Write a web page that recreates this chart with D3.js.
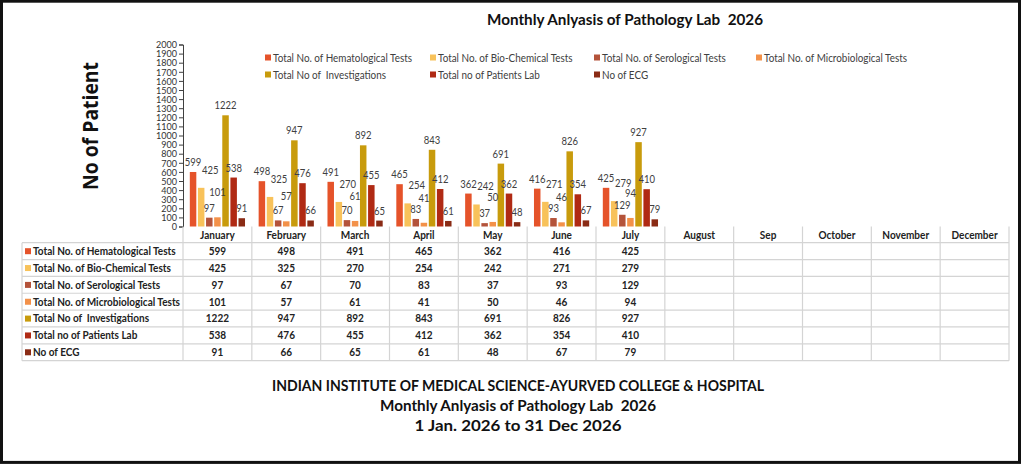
<!DOCTYPE html>
<html><head><meta charset="utf-8">
<script src="https://cdn.jsdelivr.net/npm/d3@7"></script>
<style>
html,body{margin:0;padding:0;background:#fff;}
svg{display:block;font-family:Lato,"Liberation Sans",sans-serif;}
text{white-space:pre;}
</style></head>
<body>
<script>
const months = ["January","February","March","April","May","June","July","August","Sep","October","November","December"];
const seriesNames = ["Total No. of Hematological Tests","Total No. of Bio-Chemical Tests","Total No. of Serological Tests","Total No. of Microbiological Tests","Total No of  Investigations","Total no of Patients Lab","No of ECG"];
const hematological = [599,498,491,465,362,416,425];
const bioChemical   = [425,325,270,254,242,271,279];
const serological   = [97,67,70,83,37,93,129];
const microbiological = [101,57,61,41,50,46,94];
const investigations = [1222,947,892,843,691,826,927];
const patientsLab   = [538,476,455,412,362,354,410];
const ecg           = [91,66,65,61,48,67,79];
const yTicks = d3.range(0,2001,100);
const colors = ["#E5532A","#F8C25A","#B4533A","#F39149","#C89B0C","#B02A14","#8A2B15"];
// label placement style per series (offsets in px)
const labelDx = [0,9,0,0,0,0,0];
const labelDy = [6,14,6,21,6,6,6];

const seriesValues = [hematological,bioChemical,serological,microbiological,investigations,patientsLab,ecg];

const W=1024,H=466;
const svg = d3.select("body").append("svg").attr("width",W).attr("height",H);
svg.append("rect").attr("x",0).attr("y",0).attr("width",W).attr("height",H).attr("fill","#fff");
svg.append("rect").attr("x",1.5).attr("y",1.2).attr("width",1018).attr("height",461.2).attr("fill","none").attr("stroke","#111").attr("stroke-width",3);

function fitText(sel,len){ sel.attr("textLength",len).attr("lengthAdjust","spacingAndGlyphs"); return sel; }
function scaleTexts(sel,factor){ sel.each(function(){ const w=this.getComputedTextLength(); d3.select(this).attr("textLength",w*factor).attr("lengthAdjust","spacingAndGlyphs"); }); }
function measure(str,size,weight){ const t=svg.append("text").attr("font-size",size).attr("font-weight",weight).text(str); const w=t.node().getComputedTextLength(); t.remove(); return w; }

// Title
fitText(svg.append("text").attr("x",625).attr("y",25).attr("text-anchor","middle")
  .attr("font-size",15).attr("font-weight","bold").attr("fill","#111")
  .text("Monthly Anlyasis of Pathology Lab  2026"),276);

// Scales
const x0 = d3.scaleBand().domain(months).range([183,1009]).padding(0);
const x1 = d3.scaleBand().domain(seriesNames).range([6,x0.bandwidth()-6]).paddingInner(0.2).paddingOuter(0.1);
const y = d3.scaleLinear().domain([0,2000]).range([226.5,44.5]);

// Y axis
const yAxis = svg.append("g").attr("transform","translate(183,0)")
  .call(d3.axisLeft(y).tickValues(yTicks).tickSize(4).tickPadding(2).tickFormat(d3.format("d")));
yAxis.select(".domain").attr("stroke","#404040");
yAxis.selectAll(".tick line").attr("stroke","#404040");
yAxis.selectAll(".tick text").attr("font-size",10).attr("fill","#333").attr("font-family","Lato,sans-serif");
scaleTexts(yAxis.selectAll(".tick text"), 21/measure("2000",10,"normal"));

// Y title
svg.append("text").attr("transform","translate(98,126) rotate(-90)").attr("text-anchor","middle")
  .attr("font-size",21).attr("font-weight","bold").attr("fill","#111")
  .attr("font-family","\"Open Sans\",\"Noto Sans\",sans-serif")
  .text("No of Patient").call(s=>fitText(s,128));

// Bars
const data = [];
seriesNames.forEach((s,i)=>{ seriesValues[i].forEach((v,j)=>data.push({s,i,m:months[j],v})); });
svg.append("g").selectAll("rect").data(data).join("rect")
  .attr("x",d=>x0(d.m)+x1(d.s)).attr("width",x1.bandwidth())
  .attr("y",d=>y(d.v)).attr("height",d=>y(0)-y(d.v)).attr("fill",d=>colors[d.i]);
const labels = svg.append("g").selectAll("text").data(data).join("text")
  .attr("x",d=>x0(d.m)+x1(d.s)+x1.bandwidth()/2+labelDx[d.i]).attr("y",d=>y(d.v)-labelDy[d.i])
  .attr("text-anchor","middle").attr("font-size",11.5).attr("fill","#404040")
  .text(d=>d.v);
scaleTexts(labels, 22/measure("1222",11.5,"normal"));

// Legend
const legX=[265,430,594,756], legY=[58,75];
const leg = svg.append("g").selectAll("g").data(seriesNames).join("g")
  .attr("transform",(d,i)=>`translate(${legX[i%4]},${legY[Math.floor(i/4)]})`);
leg.append("rect").attr("x",0).attr("y",-3.5).attr("width",6).attr("height",6).attr("fill",(d,i)=>colors[i]);
const legText = leg.append("text").attr("x",8).attr("y",4).attr("font-size",11).attr("fill","#404040").text(d=>d);
scaleTexts(legText, 139/measure(seriesNames[0],11,"normal"));

// Data table
const tableLeft=22, rowTop=242.7, rowH=16.85, headTop=226.5;
const tg = svg.append("g");
const gridColor="#d4d4d4";
const boldFactor = 147/measure(seriesNames[3],11,"bold");
const hdr = tg.selectAll("text.hdr").data(months).join("text").attr("class","hdr")
  .attr("x",d=>x0(d)+x0.bandwidth()/2).attr("y",238.5).attr("text-anchor","middle")
  .attr("font-size",11).attr("font-weight","bold").attr("fill","#222").text(d=>d);
scaleTexts(hdr, boldFactor);
const rowLines = d3.range(seriesNames.length+1);
tg.selectAll("line.h").data(rowLines).join("line").attr("class","h")
  .attr("x1",tableLeft).attr("x2",1009).attr("y1",d=>rowTop+d*rowH).attr("y2",d=>rowTop+d*rowH)
  .attr("stroke",gridColor).attr("stroke-width",1.2);
const vEdges = months.map(m=>x0(m)).concat([1009]);
tg.selectAll("line.v").data(vEdges).join("line").attr("class","v")
  .attr("x1",d=>d).attr("x2",d=>d).attr("y1",headTop).attr("y2",rowTop+seriesNames.length*rowH)
  .attr("stroke",gridColor).attr("stroke-width",1.2);
tg.append("line").attr("x1",tableLeft).attr("x2",tableLeft).attr("y1",rowTop).attr("y2",rowTop+seriesNames.length*rowH)
  .attr("stroke",gridColor).attr("stroke-width",1.2);
const rows = tg.selectAll("g.row").data(seriesNames).join("g").attr("class","row")
  .attr("transform",(d,i)=>`translate(0,${rowTop+i*rowH})`);
rows.append("rect").attr("x",25).attr("y",5.5).attr("width",6).attr("height",6).attr("fill",(d,i)=>colors[i]);
const rowText = rows.append("text").attr("x",33).attr("y",12.3).attr("font-size",11).attr("font-weight","bold").attr("fill","#222").text(d=>d);
scaleTexts(rowText, boldFactor);
rows.each(function(d,i){
  const vals = d3.select(this).selectAll("text.val").data(seriesValues[i]).join("text").attr("class","val")
    .attr("x",(v,j)=>x0(months[j])+x0.bandwidth()/2).attr("y",12.3).attr("text-anchor","middle")
    .attr("font-size",11).attr("font-weight","bold").attr("fill","#222").text(v=>v);
  scaleTexts(vals, boldFactor);
});

// Footer
const footer=["INDIAN INSTITUTE OF MEDICAL SCIENCE-AYURVED COLLEGE & HOSPITAL","Monthly Anlyasis of Pathology Lab  2026","1 Jan. 2026 to 31 Dec 2026"];
const footerLen=[492,276,207];
footer.forEach((t,i)=>{
  fitText(svg.append("text").attr("x",518).attr("y",391+i*20).attr("text-anchor","middle")
    .attr("font-size",15).attr("font-weight","bold").attr("fill","#111").text(t),footerLen[i]);
});
</script>
</body></html>
